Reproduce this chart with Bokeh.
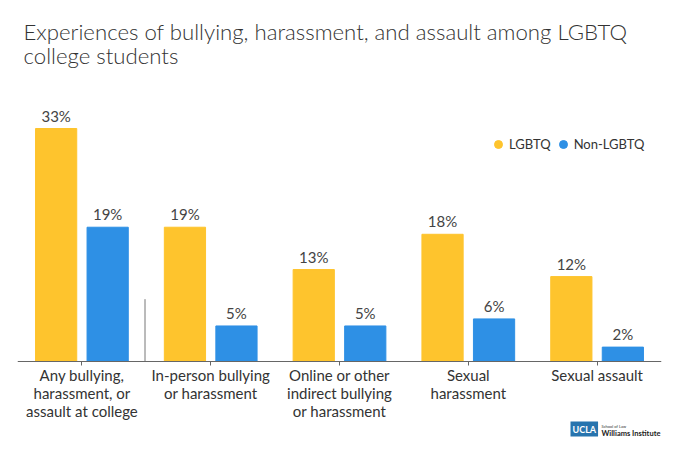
from bokeh.plotting import figure
from bokeh.models import ColumnDataSource, FactorRange, Range1d, Legend, LegendItem, Label
from bokeh.transform import dodge
from bokeh.core.properties import value
from bokeh.embed import file_html
from bokeh.resources import INLINE

# data
categories = [
    "Any bullying,\nharassment, or\nassault at college",
    "In-person bullying\nor harassment",
    "Online or other\nindirect bullying\nor harassment",
    "Sexual\nharassment",
    "Sexual assault",
]
lgbtq = [33, 19, 13, 18, 12]
non_lgbtq = [19, 5, 5, 6, 2]
title_lines = ["Experiences of bullying, harassment, and assault among LGBTQ",
               "college students"]

YELLOW = "#FEC42D"
BLUE = "#2E90E5"
FONT = "Lato"

source = ColumnDataSource(data=dict(
    cat=categories,
    lgbtq=lgbtq,
    non_lgbtq=non_lgbtq,
    lgbtq_lbl=[f"{v}%" for v in lgbtq],
    non_lgbtq_lbl=[f"{v}%" for v in non_lgbtq],
))

# the frame covers the whole page height so the title, axis labels and logo
# are placed freely; the x axis itself is pinned at y=0
p = figure(x_range=FactorRange(*categories), y_range=Range1d(-12.8, 51.15),
           width=680, height=451, output_backend="svg", toolbar_location=None,
           min_border_left=17, min_border_right=19, min_border_bottom=0, min_border_top=0)
p.title.visible = False

# title, two lines
for line, y in zip(title_lines, [420.5, 396.5]):
    p.add_layout(Label(x=6, y=y, x_units="screen", y_units="screen", text=line,
                       text_baseline="alphabetic", text_font="Lato Light, Lato",
                       text_font_size="22.2px", text_color="#333333"))

p.vbar(x=dodge("cat", -0.2, range=p.x_range), top="lgbtq", width=0.32, source=source,
       color=YELLOW)
p.vbar(x=dodge("cat", 0.2, range=p.x_range), top="non_lgbtq", width=0.32, source=source,
       color=BLUE)

# value labels on top of bars
for off, col, lbl in [(-0.2, "lgbtq", "lgbtq_lbl"), (0.2, "non_lgbtq", "non_lgbtq_lbl")]:
    p.text(x=dodge("cat", off, range=p.x_range), y=col, text=lbl, source=source,
           text_align="center", text_baseline="bottom", y_offset=-4,
           text_font=value(FONT), text_font_size="15px", text_color="#444444")

# small divider after the summary group
sep = ColumnDataSource(data=dict(x=[categories[0]], y0=[0], y1=[8.8]))
p.segment(x0=dodge("x", 0.49, range=p.x_range), x1=dodge("x", 0.49, range=p.x_range),
          y0="y0", y1="y1", source=sep, line_color="#777777", line_width=1)

# legend with round markers (zero-size markers, only the legend shows them)
r1 = p.scatter(x=dodge("cat", -0.2, range=p.x_range), y="lgbtq", source=source,
               marker="circle", size=0, color=YELLOW)
r2 = p.scatter(x=dodge("cat", 0.2, range=p.x_range), y="non_lgbtq", source=source,
               marker="circle", size=0, color=BLUE)
legend = Legend(items=[LegendItem(label="LGBTQ", renderers=[r1]),
                       LegendItem(label="Non-LGBTQ", renderers=[r2])],
                orientation="horizontal", location=(471, 297),
                background_fill_alpha=0, border_line_alpha=0,
                padding=0, margin=0, spacing=2, label_standoff=1,
                glyph_width=20, glyph_height=20,
                label_text_font=FONT, label_text_font_size="13px",
                label_text_color="#333333")
p.add_layout(legend, "center")

# UCLA logo
p.add_layout(Label(x=553, y=15, x_units="screen", y_units="screen", text="UCLA",
                   text_font=FONT, text_font_style="bold", text_font_size="9px",
                   text_color="white", background_fill_color="#2774AE", padding=2))
p.add_layout(Label(x=584, y=23, x_units="screen", y_units="screen", text="School of Law",
                   text_font=FONT, text_font_size="4px", text_color="#333333"))
p.add_layout(Label(x=584, y=14, x_units="screen", y_units="screen", text="Williams Institute",
                   text_font=FONT, text_font_style="bold", text_font_size="7.5px",
                   text_color="#222222"))

p.xaxis.fixed_location = 0
p.xaxis.axis_line_color = "#666666"
p.xaxis.major_tick_line_color = "#666666"
p.xaxis.major_tick_out = 4
p.xaxis.major_tick_in = 0
p.xaxis.major_label_standoff = 1
p.xaxis.major_label_text_font = FONT
p.xaxis.major_label_text_font_size = "15px"
p.xaxis.major_label_text_line_height = 1.0
p.xaxis.major_label_text_color = "#333333"
p.yaxis.visible = False
p.xgrid.visible = False
p.ygrid.visible = False
p.outline_line_color = None

open("out.html", "w").write(file_html(p, INLINE))
